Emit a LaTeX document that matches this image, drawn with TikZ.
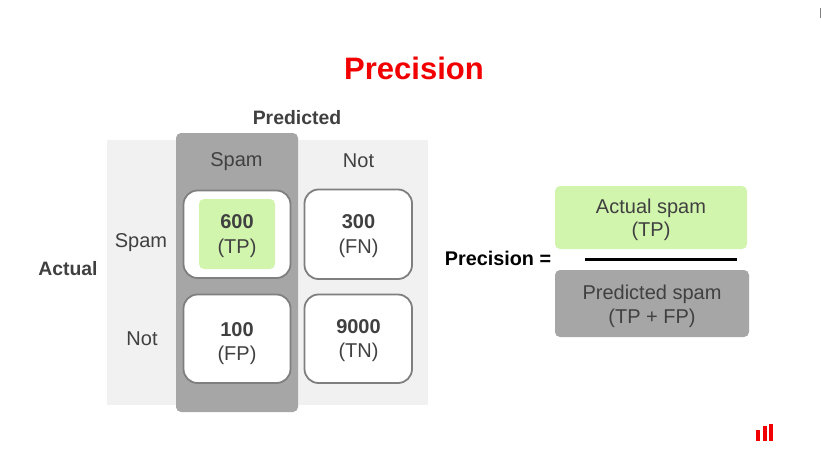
\documentclass[tikz,border=0pt]{standalone}
\usepackage{fontspec}
\setmainfont{Liberation Sans}
\definecolor{txt}{HTML}{404040}
\definecolor{lightbg}{HTML}{F1F1F1}
\definecolor{greybox}{HTML}{A6A6A6}
\definecolor{greenbox}{HTML}{D2F5AE}
\definecolor{cellline}{HTML}{7F7F7F}
\definecolor{brandred}{HTML}{F20000}
\tikzset{
  x=1pt,y=-1pt,
  lab/.style={text=txt,font=\fontsize{20}{24}\selectfont,inner sep=0pt,align=center},
  cell/.style={draw=cellline,line width=1.8pt,fill=white,rounded corners=14pt},
  val/.style={text=txt,font=\fontsize{20}{24.5}\selectfont,inner sep=0pt,align=center},
  boldlab/.style={font=\fontsize{19.4}{23}\selectfont\bfseries,inner sep=0pt},
  flat/.style={rounded corners=5pt},
}
\begin{document}
\begin{tikzpicture}
\useasboundingbox (0,0) rectangle (821,466);
\fill[white] (0,0) rectangle (821,466);
\fill[lightbg] (107,140) rectangle (428,405);
\fill[greybox,flat] (176,133) rectangle (298,412);
\draw[cell] (183.5,190.5) rectangle (290.5,278);
\draw[cell] (304.5,189.5) rectangle (412,279);
\draw[cell] (183.5,294.5) rectangle (290.5,383);
\draw[cell] (304.5,294.5) rectangle (412,383);
\fill[greenbox,flat] (199,199) rectangle (275,269);
\node[text=brandred,font=\fontsize{31}{36}\selectfont\bfseries,inner sep=0pt] (title) at (414,68) {Precision};
\node[boldlab,text=txt] (pred) at (297,118) {Predicted};
\node[boldlab,text=txt] (act) at (68,269) {Actual};
\node[lab] (cspam) at (236.5,161.5) {Spam};
\node[lab] (cnot) at (358.5,161) {Not};
\node[lab] (rspam) at (141,242.5) {Spam};
\node[lab] (rnot) at (142,338.5) {Not};
\node[val] (tp) at (237,236) {\textbf{600}\\(TP)};
\node[val] (fn) at (358.5,236) {\textbf{300}\\(FN)};
\node[val] (fp) at (237,343.5) {\textbf{100}\\(FP)};
\node[val] (tn) at (358.5,340.5) {\textbf{9000}\\(TN)};
\node[boldlab,text=black,font=\fontsize{19.8}{23}\selectfont\bfseries] (prec) at (498,258.5) {Precision =};
\fill[greenbox,flat] (555,186) rectangle (747,249);
\fill[greybox,flat] (555,270) rectangle (749,337);
\node[val,font=\fontsize{20}{23.5}\selectfont] (num) at (651,220) {Actual spam\\(TP)};
\node[val,font=\fontsize{20}{23.5}\selectfont] (den) at (652,306.5) {Predicted spam\\(TP + FP)};
\fill[black] (585,257.5) rectangle (737,260.5);
\fill[brandred] (756,430) rectangle (760,441);
\fill[brandred] (763,426) rectangle (767,441);
\fill[brandred] (769,424) rectangle (773,441);
\fill[gray] (820,8) rectangle (821,18);
\end{tikzpicture}
\end{document}
